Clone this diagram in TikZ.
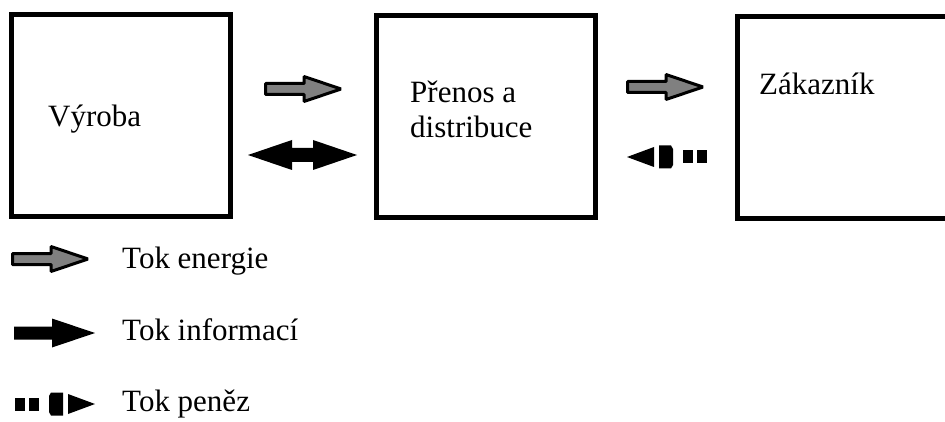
\documentclass[tikz,border=0pt]{standalone}
\usepackage{fontspec}
\setmainfont{Liberation Serif}
\definecolor{arrowgray}{RGB}{128,128,128}
\tikzset{
  box/.style={draw, line width=5pt, minimum width=219pt, minimum height=202pt, inner sep=0pt, outer sep=0pt},
  lbl/.style={anchor=base west, inner sep=0pt, font=\fontsize{31}{36}\selectfont},
  pics/energyarrow/.style={code={
    \draw[line width=3pt, fill=arrowgray, line join=bevel]
      (1.5,-5.5) -- (40,-5.5) -- (40,-12.5) -- (77,0) -- (40,12.5) -- (40,5.5) -- (1.5,5.5) -- cycle;}},
  pics/infoarrow/.style={code={
    \fill (0,-6.5) -- (38,-6.5) -- (38,-14.5) -- (81,0) -- (38,14.5) -- (38,6.5) -- (0,6.5) -- cycle;}},
  pics/doublearrow/.style={code={
    \fill (0,0) -- (44,-15) -- (44,-7) -- (65,-7) -- (65,-15) -- (109,0) -- (65,15) -- (65,7) -- (44,7) -- (44,15) -- cycle;}},
  pics/moneyarrow/.style={code={
    \fill (0,-6.5) rectangle (10,6.5);
    \fill (14,-6.5) rectangle (24,6.5);
    \fill (34,-8) -- (36,-11.5) -- (48,-11.5) -- (48,11.5) -- (36,11.5) -- (34,8) -- cycle;
    \fill (53,-10) -- (80,0) -- (53,10) -- cycle;}}
}
\begin{document}
\begin{tikzpicture}[x=1pt, y=-1pt]
\useasboundingbox (0,0) rectangle (945,422);
\fill[white] (0,0) rectangle (945,422);
% boxes
\node[box] (vyroba) at (121,115.5) {};
\node[box] (prenos) at (486,116.5) {};
\node[box, minimum height=202.5pt] (zakaznik) at (847,117.75) {};
% box texts
\node[lbl] (tv) at (48,127) {Výroba};
\node[lbl] (tp1) at (410,103) {Přenos a};
\node[lbl] (tp2) at (410,138) {distribuce};
\node[lbl] (tz) at (759,95) {Zákazník};
% arrows between boxes
\pic at (264,89) {energyarrow};
\pic at (626,87) {energyarrow};
\pic at (248,155) {doublearrow};
\pic[xscale=-1] at (707,157) {moneyarrow};
% legend
\pic at (11,259) {energyarrow};
\pic at (14,333) {infoarrow};
\pic at (15,404) {moneyarrow};
\node[lbl] (le) at (122,268) {Tok energie};
\node[lbl] (li) at (122,340) {Tok informací};
\node[lbl] (lp) at (122,411) {Tok peněz};
\end{tikzpicture}
\end{document}
